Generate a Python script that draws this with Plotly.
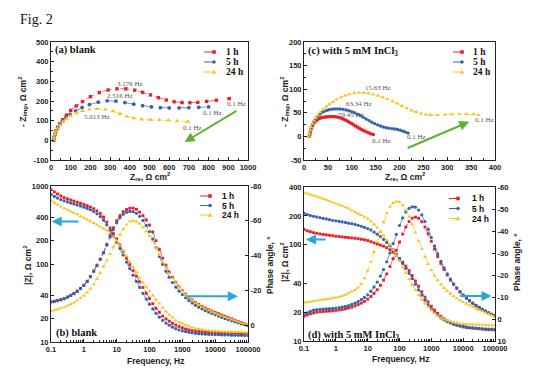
import math
import plotly.graph_objects as go

# The page body keeps the browser's default 8 px margin, so the figure is drawn
# 8 px smaller and every paper position is shifted by that offset.
OFF = 8
W, H = 554 - OFF, 388 - OFF

# ---------------- data ----------------
series_names = ["1 h", "5 h", "24 h"]

# (a) Nyquist, blank
a_re_1h = [14, 16, 20, 26, 34, 45, 60, 78, 100, 128, 160, 200, 245, 290, 335, 380, 425, 465, 505, 545, 585, 625, 665, 705, 745, 790, 840, 905]
a_im_1h = [2, 15, 30, 48, 66, 85, 105, 128, 152, 175, 197, 222, 243, 256, 262, 262, 255, 244, 231, 217, 205, 196, 192, 191, 193, 198, 204, 212]
a_re_5h = [14, 16, 20, 26, 34, 45, 58, 75, 97, 125, 158, 195, 240, 285, 330, 375, 420, 465, 510, 555, 600, 650, 700, 750, 800]
a_im_5h = [2, 15, 30, 48, 64, 82, 98, 115, 132, 150, 167, 182, 194, 201, 199, 192, 184, 176, 170, 166, 165, 165, 166, 168, 170]
a_re_24h = [14, 16, 20, 26, 34, 45, 60, 78, 100, 128, 160, 195, 235, 275, 315, 350, 385, 420, 460, 505, 550, 595, 640, 695]
a_im_24h = [2, 15, 30, 46, 62, 78, 95, 110, 124, 138, 150, 157, 160, 157, 148, 135, 122, 113, 107, 105, 104, 102, 98, 95]

# (c) Nyquist, with 5 mM InCl3
c_re_1h = [11, 12, 13, 14, 16, 18, 20, 23, 26, 29, 32, 36, 40, 44, 48, 52, 56, 60, 64, 68, 72, 76, 80, 84, 88, 92, 96, 100, 104, 108, 112, 116, 120, 124, 128, 132, 136, 140, 145]
c_im_1h = [0, 4, 9, 14, 19, 23, 27, 31, 34, 36, 38, 39.5, 40.5, 41, 41.5, 41.8, 42, 42, 41.8, 41.3, 40.5, 39.3, 37.8, 36, 34, 31.8, 29.5, 27, 24.5, 22, 19.5, 17, 14.8, 12.8, 10.8, 9, 7.3, 5.5, 4]
c_re_5h = [11, 12, 14, 16, 18, 21, 24, 28, 32, 37, 42, 47, 52, 58, 64, 70, 76, 82, 88, 94, 100, 106, 112, 118, 124, 130, 136, 142, 148, 154, 160, 166, 172, 178, 184, 190, 196, 202, 208, 213, 218]
c_im_5h = [0, 6, 13, 20, 26, 32, 37, 42, 46, 50, 53, 55, 56.5, 57.5, 58, 58.2, 58, 57.3, 56, 54.5, 52.5, 50, 47, 44, 40.5, 37, 33.5, 30, 27, 24.5, 22, 20, 18.5, 17.5, 16.5, 15.5, 14.5, 13, 11, 9, 7]
c_re_24h = [10, 11, 13, 15, 18, 21, 25, 29, 34, 40, 46, 53, 60, 68, 77, 86, 95, 105, 115, 125, 135, 145, 155, 165, 175, 185, 195, 205, 215, 225, 235, 245, 255, 265, 280, 295, 310, 325, 340, 355, 365]
c_im_24h = [0, 6, 13, 20, 27, 33, 39, 45, 51, 57, 63, 68, 73, 78, 82.5, 86.5, 89.5, 91.5, 92.5, 92.5, 91.5, 89.5, 86.5, 83, 79, 74.5, 69.5, 64.5, 59.5, 55, 51.5, 48.5, 46.5, 45.5, 45.5, 46, 47, 47.5, 47.5, 47, 46]

# Bode frequencies (Hz)
freq = [0.1, 0.126, 0.158, 0.2, 0.251, 0.316, 0.398, 0.501, 0.631, 0.794,
        1, 1.26, 1.58, 2, 2.51, 3.16, 3.98, 5.01, 6.31, 7.94,
        10, 12.6, 15.8, 20, 25.1, 31.6, 39.8, 50.1, 63.1, 79.4,
        100, 126, 158, 200, 251, 316, 398, 501, 631, 794,
        1000, 1259, 1585, 1995, 2512, 3162, 3981, 5012, 6310, 7943,
        10000, 12589, 15849, 19953, 25119, 31623, 39811, 50119, 63096, 79433,
        100000]

# (b) Bode, blank : |Z| (ohm cm2) and phase (deg)
b_z_1h = [900, 840, 790, 745, 710, 685, 660, 640, 620, 600,
          580, 560, 538, 512, 480, 445, 400, 345, 290, 245,
          210, 175, 145, 118, 98, 82, 70, 59, 50, 42,
          36, 31, 27, 24, 21.5, 19.8, 18.5, 17.3, 16.5, 15.8,
          15.2, 14.7, 14.3, 14.0, 13.8, 13.6, 13.5, 13.4, 13.3, 13.2,
          13.1, 13.1, 13.0, 13.0, 13.0, 12.9, 12.9, 12.9, 12.8, 12.8,
          12.8]
b_z_5h = [780, 735, 700, 670, 645, 625, 605, 588, 570, 553,
          535, 515, 495, 470, 440, 405, 365, 318, 270, 228,
          190, 158, 130, 106, 87, 72, 60, 50, 42, 35.5,
          30.5, 26.5, 23.3, 20.8, 19, 17.5, 16.4, 15.5, 14.8, 14.3,
          13.9, 13.6, 13.3, 13.1, 12.9, 12.8, 12.7, 12.6, 12.5, 12.5,
          12.4, 12.4, 12.3, 12.3, 12.3, 12.2, 12.2, 12.2, 12.2, 12.1,
          12.1]
b_z_24h = [650, 610, 575, 545, 518, 495, 472, 452, 432, 410,
           390, 370, 352, 335, 318, 302, 285, 268, 250, 225,
           198, 172, 148, 126, 107, 91, 78, 67, 58, 51,
           45, 39.5, 35, 31, 27.5, 24.6, 22.3, 20.5, 19, 17.9,
           17.2, 16.5, 15.9, 15.4, 15, 14.7, 14.4, 14.2, 14.0, 13.9,
           13.8, 13.7, 13.6, 13.6, 13.5, 13.5, 13.4, 13.4, 13.4, 13.3,
           13.3]
b_ph_1h = [-13.5, -13.8, -14.2, -14.7, -15.3, -16.2, -17.2, -18.3, -19.6, -21.2,
           -23, -25.2, -28, -31.2, -34.5, -38, -41.7, -46.5, -51.5, -56,
           -60, -63, -65.2, -66.5, -67.2, -67.3, -66.6, -65, -63, -60.5,
           -57.5, -53.5, -48.5, -43.5, -38.5, -34.5, -30.5, -27.5, -24.5, -22,
           -19.8, -17.8, -16, -14.5, -13.1, -11.9, -10.8, -9.8, -8.9, -8.1,
           -7.3, -6.6, -5.8, -5.1, -4.3, -3.6, -2.9, -2.2, -1.5, -0.9,
           -0.3]
b_ph_5h = [-13.2, -13.5, -14, -14.5, -15.1, -16, -17, -18.1, -19.4, -21,
           -22.8, -25, -27.7, -30.8, -34.2, -37.8, -41.5, -46, -50.8, -55,
           -58.8, -61.8, -63.7, -64.9, -65.4, -65.2, -64.3, -62.6, -60.3, -57.3,
           -53.8, -49.5, -44.5, -39.5, -35, -31, -27.5, -24.5, -21.8, -19.5,
           -17.5, -15.7, -14.1, -12.7, -11.4, -10.3, -9.3, -8.4, -7.5, -6.7,
           -5.9, -5.2, -4.5, -3.8, -3.1, -2.5, -1.9, -1.3, -0.7, -0.2,
           0.3]
b_ph_24h = [-8, -8.5, -9, -9.6, -10.3, -11.1, -12, -13, -14.2, -15.5,
            -17, -18.8, -21, -23.6, -26.6, -30, -33.6, -37.3, -41, -44.8,
            -48.5, -52, -55.2, -57.8, -59.5, -60, -59.5, -58.2, -56.3, -54,
            -51.2, -48, -44.3, -40.3, -36.5, -33, -29.8, -26.9, -24.2, -21.8,
            -19.6, -17.6, -15.8, -14.2, -12.8, -11.5, -10.4, -9.4, -8.5, -7.6,
            -6.8, -6, -5.3, -4.6, -3.9, -3.2, -2.6, -2, -1.4, -0.9,
            -0.4]

# (d) Bode, with 5 mM InCl3
d_z_1h = [145, 140, 137, 134, 132, 130, 128.5, 127, 126, 124.5,
          123, 122, 121, 120, 119, 118, 117, 116, 114.5, 113,
          111, 108, 105, 102, 99.5, 97, 93.5, 89, 84, 78,
          72, 66, 60, 54, 48, 42, 37, 32.5, 28.5, 25.5,
          23, 21, 19.4, 18.1, 17, 16.2, 15.5, 15, 14.6, 14.3,
          14.0, 13.8, 13.7, 13.6, 13.5, 13.4, 13.3, 13.2, 13.1, 13.1,
          13.0]
d_z_5h = [213, 207, 202, 198, 195, 192, 189, 186, 183, 180,
          178, 176, 173, 171, 168, 166, 163, 160, 156, 152,
          148, 143, 136, 129, 122, 114, 106, 98, 89, 80,
          72, 64, 57, 50.5, 44.5, 39, 34, 30, 26.6, 23.8,
          21.6, 19.9, 18.5, 17.4, 16.6, 15.9, 15.4, 15, 14.7, 14.4,
          14.2, 14, 13.8, 13.7, 13.6, 13.5, 13.4, 13.4, 13.3, 13.3,
          13.2]
d_z_24h = [350, 342, 334, 326, 318, 310, 302, 294, 285, 277,
           269, 262, 254, 246, 238, 229, 220, 212, 204, 196,
           187, 176, 164, 151, 138, 125, 112, 100, 89, 78,
           68, 59, 51, 44, 38.5, 34, 30, 27, 24.5, 22.5,
           20.8, 19.4, 18.3, 17.4, 16.8, 16.3, 15.9, 15.6, 15.4, 15.2,
           15.1, 15, 14.9, 14.8, 14.8, 14.7, 14.7, 14.7, 14.6, 14.6,
           14.6]
d_ph_1h = [-1.2, -1.8, -2.4, -2.8, -3.1, -3.3, -3.4, -3.5, -3.6, -3.7,
           -3.9, -4.1, -4.3, -4.6, -5, -5.4, -5.9, -6.5, -7.2, -8,
           -9, -10.2, -11.6, -13.3, -15.3, -17.7, -20.5, -23.8, -27.4, -31.2,
           -35, -38.6, -41.8, -44.3, -45.8, -46.3, -45.8, -44.2, -41.8, -38.7,
           -35.3, -31.8, -28.4, -25.3, -22.5, -20, -17.7, -15.7, -13.9, -12.3,
           -10.8, -9.5, -8.3, -7.2, -6.2, -5.3, -4.4, -3.6, -2.8, -2.1,
           -1.4]
d_ph_5h = [-2, -2.8, -3.5, -4, -4.3, -4.4, -4.5, -4.6, -4.7, -4.8,
           -5, -5.2, -5.4, -5.7, -6.1, -6.6, -7.2, -7.9, -8.8, -9.8,
           -11, -12.6, -14.5, -16.8, -19.5, -22.5, -26, -30, -34.3, -38.5,
           -42.5, -46, -48.6, -50.3, -51, -50.8, -49.5, -47.3, -44.3, -40.8,
           -37, -33.2, -29.5, -26.2, -23.2, -20.5, -18.1, -16, -14.1, -12.4,
           -10.9, -9.5, -8.3, -7.2, -6.2, -5.3, -4.4, -3.6, -2.8, -2.1,
           -1.4]
d_ph_24h = [-7.5, -7.7, -7.9, -8.1, -8.4, -8.6, -8.8, -9, -9.2, -9.5,
            -9.8, -10.1, -10.5, -11, -11.7, -12.5, -13.2, -14.3, -16, -18.5,
            -22, -26, -30.5, -35, -39.5, -44, -48, -51, -52.8, -53.5,
            -53.2, -51.8, -49.5, -46.5, -43, -39.3, -35.5, -31.8, -28.3, -25,
            -22.2, -19.7, -17.6, -15.7, -14.1, -12.7, -11.5, -10.4, -9.4, -8.5,
            -7.7, -6.9, -6.2, -5.5, -4.8, -4.1, -3.5, -2.8, -2.2, -1.6,
            -1.0]

# tick labels
a_xticks = [0, 100, 200, 300, 400, 500, 600, 700, 800, 900, 1000]
a_yticks = [-100, 0, 100, 200, 300, 400, 500]
c_xticks = [0, 50, 100, 150, 200, 250, 300, 350, 400]
c_yticks = [-50, 0, 50, 100, 150, 200]
f_ticks = [0.1, 1, 10, 100, 1000, 10000, 100000]
f_ticklabels = ["0.1", "1", "10", "100", "1000", "10000", "100000"]
b_zticks = [10, 20, 40, 100, 200, 400, 1000]
b_phticks = [0, -20, -40, -60, -80]
d_zticks = [10, 20, 40, 100, 200, 400]
d_phticks = [10, 0, -10, -20, -30, -40, -50, -60]

# ---------------- style ----------------
RED, BLUE, YEL = "#e8202a", "#3763ad", "#f6c41a"
colors = [RED, BLUE, YEL]
symbols = ["square", "circle", "triangle-up"]
msize = [3.4, 3.8, 4.4]
GREEN, CYAN = "#5cb332", "#29a6de"
AXC = "#222222"
SANS = "Liberation Sans"
SERIF = "Liberation Serif"


def lab(v):
    return str(v).replace("\u2212", "-")


fig = go.Figure()


def add(x, y, i, xa, ya, scale=1.0):
    fig.add_trace(go.Scatter(
        x=x, y=y, mode="lines+markers", name=series_names[i], showlegend=False,
        line=dict(color=colors[i], width=0.7, dash="dash"),
        marker=dict(color=colors[i], size=msize[i] * scale, symbol=symbols[i], line=dict(width=0)),
        xaxis=xa, yaxis=ya))


# (a)
add(a_re_1h, a_im_1h, 0, "x", "y")
add(a_re_5h, a_im_5h, 1, "x", "y")
add(a_re_24h, a_im_24h, 2, "x", "y")
# (c)
add(c_re_1h, c_im_1h, 0, "x2", "y2", 0.9)
add(c_re_5h, c_im_5h, 1, "x2", "y2", 0.9)
add(c_re_24h, c_im_24h, 2, "x2", "y2", 0.9)
# (b)
for i, (z, ph) in enumerate([(b_z_1h, b_ph_1h), (b_z_5h, b_ph_5h), (b_z_24h, b_ph_24h)]):
    add(freq, z, i, "x3", "y3", 0.85)
    add(freq, ph, i, "x3", "y4", 0.85)
# (d)
for i, (z, ph) in enumerate([(d_z_1h, d_ph_1h), (d_z_5h, d_ph_5h), (d_z_24h, d_ph_24h)]):
    add(freq, z, i, "x4", "y5", 0.85)
    add(freq, ph, i, "x4", "y6", 0.85)


def px(x):
    return (x - OFF) / W


def py(y):
    return 1 - (y - OFF) / H


tf = dict(family=SANS, size=7.5, color=AXC, weight="bold")
base = dict(showline=True, linecolor=AXC, linewidth=1, ticks="inside", ticklen=3,
            tickcolor=AXC, showgrid=False, zeroline=False, tickfont=tf, automargin=False)

XA = [px(51), px(248)]
XC = [px(304), px(495)]
YT = [py(160), py(42)]
YB = [py(342), py(186)]
YD = [py(341), py(187)]

fig.update_layout(
    width=W, height=H, margin=dict(l=0, r=0, t=0, b=0, autoexpand=False),
    paper_bgcolor="white", plot_bgcolor="white", showlegend=False,
    xaxis=dict(base, domain=XA, range=[0, 1000], anchor="y", mirror=True,
               tickmode="array", tickvals=a_xticks, ticktext=[lab(v) for v in a_xticks],
               minor=dict(ticks="inside", ticklen=2, dtick=50, tickcolor=AXC)),
    yaxis=dict(base, domain=YT, range=[-100, 500], anchor="x", mirror=True,
               tickmode="array", tickvals=a_yticks, ticktext=[lab(v) for v in a_yticks],
               minor=dict(ticks="inside", ticklen=2, dtick=50, tickcolor=AXC)),
    xaxis2=dict(base, domain=XC, range=[0, 400], anchor="y2", mirror=True,
                tickmode="array", tickvals=c_xticks, ticktext=[lab(v) for v in c_xticks],
                minor=dict(ticks="inside", ticklen=2, dtick=25, tickcolor=AXC)),
    yaxis2=dict(base, domain=YT, range=[-50, 200], anchor="x2", mirror=True,
                tickmode="array", tickvals=c_yticks, ticktext=[lab(v) for v in c_yticks],
                minor=dict(ticks="inside", ticklen=2, dtick=25, tickcolor=AXC)),
    xaxis3=dict(base, domain=XA, type="log", range=[-1, 5], anchor="y3", mirror=True,
                tickmode="array", tickvals=f_ticks, ticktext=f_ticklabels,
                minor=dict(ticks="inside", ticklen=2, dtick="D1", tickcolor=AXC)),
    yaxis3=dict(base, domain=YB, type="log", range=[1, 3], anchor="x3",
                tickmode="array", tickvals=b_zticks, ticktext=[lab(v) for v in b_zticks]),
    yaxis4=dict(base, overlaying="y3", side="right", anchor="x3", range=[9.7, -80],
                tickmode="array", tickvals=b_phticks, ticktext=[lab(v) for v in b_phticks]),
    xaxis4=dict(base, domain=XC, type="log", range=[-1, 5], anchor="y5", mirror=True,
                tickmode="array", tickvals=f_ticks, ticktext=f_ticklabels,
                minor=dict(ticks="inside", ticklen=2, dtick="D1", tickcolor=AXC)),
    yaxis5=dict(base, domain=YD, type="log", range=[1, math.log10(400)], anchor="x4",
                tickmode="array", tickvals=d_zticks, ticktext=[lab(v) for v in d_zticks]),
    yaxis6=dict(base, overlaying="y5", side="right", anchor="x4", range=[10, -60],
                tickmode="array", tickvals=d_phticks, ticktext=[lab(v) for v in d_phticks]),
)

ann = []
shapes = []


def text_px(x, y, t, size=9, fam=SANS, bold=True, anchor="center", angle=0, color=AXC):
    ann.append(dict(x=px(x), y=py(y), xref="paper", yref="paper", text=t, showarrow=False,
                    xanchor=anchor, yanchor="middle", textangle=angle,
                    font=dict(family=fam, size=size, color=color, weight="bold" if bold else "normal")))


# Figure label
text_px(18, 20, "Fig. 2", size=14, fam=SERIF, bold=False, anchor="left", color="#111")

# axis titles
text_px(22, 102, "- Z<sub>img</sub>, \u03a9 cm<sup>2</sup>", size=8.5, angle=-90)
text_px(150, 176, "Z<sub>re</sub>, \u03a9 cm<sup>2</sup>", size=8.5)
text_px(284, 102, "- Z<sub>img</sub>, \u03a9 cm<sup>2</sup>", size=8.5, angle=-90)
text_px(405, 177, "Z<sub>re</sub>, \u03a9 cm<sup>2</sup>", size=8.5)
text_px(27, 265, "|Z|, \u03a9 cm<sup>2</sup>", size=8.5, angle=-90)
text_px(270, 265, "Phase angle, \u00b0", size=8.5, angle=-90)
text_px(155, 361, "Frequency, Hz", size=8.5)
text_px(284, 262, "|Z|, \u03a9 cm<sup>2</sup>", size=8.5, angle=-90)
text_px(517, 262, "Phase angle, \u00b0", size=8.5, angle=-90)
text_px(400, 359, "Frequency, Hz", size=8.5)

# panel labels
text_px(53, 50, "(a) blank", size=10.5, fam=SERIF, anchor="left", color="#111")
text_px(306, 51, "(c) with 5 mM InCl<sub>3</sub>", size=10.5, fam=SERIF, anchor="left", color="#111")
text_px(54, 333, "(b) blank", size=10.5, fam=SERIF, anchor="left", color="#111")
text_px(306, 335, "(d) with 5 mM InCl<sub>3</sub>", size=10.5, fam=SERIF, anchor="left", color="#111")

# frequency labels (data coords)
hz = dict(family=SERIF, size=7, color="#555")
for x, y, t in [(402, 286, "3.176 Hz"), (350, 223, "2.516 Hz"), (231, 117, "5.013 Hz"),
                (941, 184, "0.1 Hz"), (820, 141, "0.1 Hz"), (719, 65, "0.1 Hz")]:
    ann.append(dict(x=x, y=y, xref="x", yref="y", text=t, showarrow=False, font=hz))
for x, y, t in [(154, 102, "15.63 Hz"), (116, 68, "63.34 Hz"), (99, 46, "79.45 Hz"),
                (377, 34, "0.1 Hz"), (235, -2, "0.1 Hz"), (163, -10, "0.1 Hz")]:
    ann.append(dict(x=x, y=y, xref="x2", yref="y2", text=t, showarrow=False, font=hz))


def arrow(x, y, ax, ay, xr, yr, color):
    ann.append(dict(x=x, y=y, ax=ax, ay=ay, xref=xr, yref=yr, axref=xr, ayref=yr,
                    text="", showarrow=True, arrowhead=2, arrowsize=1, arrowwidth=2,
                    arrowcolor=color))


arrow(678, -9, 949, 154, "x", "y", GREEN)
arrow(346, 31, 214, -26, "x2", "y2", GREEN)
L = math.log10
arrow(L(0.105), L(350), L(0.76), L(350), "x3", "y3", CYAN)
arrow(L(49000), -16.6, L(1260), -16.6, "x3", "y4", CYAN)
arrow(L(0.115), L(114), L(0.53), L(114), "x4", "y5", CYAN)
arrow(L(78000), -10.5, L(7070), -10.5, "x4", "y6", CYAN)

# manual legends: (line x0, line x1, text x, first row y, row step, font family, size)
legend_specs = [
    (204, 220, 224, 52, 10, SERIF, 9.5),
    (453, 467, 471, 52, 10, SERIF, 9.5),
    (200, 216, 220, 196, 9.5, SANS, 8.5),
    (449, 463, 470, 198.5, 10, SANS, 8.5),
]
for (lx0, lx1, tx, y0, dy, fam, fs) in legend_specs:
    for i in range(3):
        yy = y0 + i * dy
        c = colors[i]
        shapes.append(dict(type="line", xref="paper", yref="paper", x0=px(lx0), x1=px(lx1),
                           y0=py(yy), y1=py(yy), line=dict(color=c, width=1, dash="dash")))
        mx = (lx0 + lx1) / 2 + 2
        r = 1.8
        if i == 0:
            shapes.append(dict(type="rect", xref="paper", yref="paper", x0=px(mx - r), x1=px(mx + r),
                               y0=py(yy + r), y1=py(yy - r), fillcolor=c, line=dict(width=0)))
        elif i == 1:
            shapes.append(dict(type="circle", xref="paper", yref="paper", x0=px(mx - r), x1=px(mx + r),
                               y0=py(yy + r), y1=py(yy - r), fillcolor=c, line=dict(width=0)))
        else:
            path = "M {:.5f},{:.5f} L {:.5f},{:.5f} L {:.5f},{:.5f} Z".format(
                px(mx - 2.3), py(yy + 1.8), px(mx + 2.3), py(yy + 1.8), px(mx), py(yy - 2.3))
            shapes.append(dict(type="path", xref="paper", yref="paper", path=path,
                               fillcolor=c, line=dict(width=0)))
        text_px(tx, yy, series_names[i], size=fs, fam=fam, anchor="left", color="#111")

fig.update_layout(annotations=ann, shapes=shapes)
fig.write_html("out.html")
